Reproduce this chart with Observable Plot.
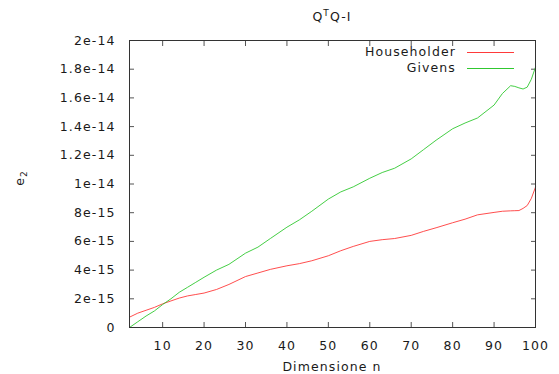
<!DOCTYPE html>
<html><head><meta charset="utf-8">
<script src="https://cdn.jsdelivr.net/npm/d3@7"></script>
<script src="https://cdn.jsdelivr.net/npm/@observablehq/plot@0.6"></script>
<style>
body{margin:0;background:#fff;font-family:"DejaVu Sans",sans-serif;}
#wrap{position:relative;width:559px;height:374px;overflow:hidden}
.t{position:absolute;font-size:12.5px;letter-spacing:1.1px;color:#1a1a1a;white-space:nowrap;line-height:14px}
.ln{position:absolute;height:0;width:47px}
</style></head><body><div id="wrap"></div>
<script>
// Dimension n
const n = [2,4,6,8,10,12,14,16,18,20,23,26,30,33,36,40,43,46,50,53,56,60,63,66,70,73,76,80,83,86,90,92,94,95,96,97,98,99,100];
// e2 in units of 1e-15
const householder = [0.72,1.0,1.2,1.4,1.65,1.85,2.05,2.2,2.3,2.4,2.65,3.0,3.55,3.8,4.05,4.3,4.45,4.65,5.0,5.35,5.65,6.0,6.12,6.2,6.42,6.7,6.95,7.3,7.55,7.85,8.02,8.1,8.13,8.14,8.15,8.3,8.5,9.0,9.78];
const givens = [0,0.4,0.8,1.15,1.6,2.0,2.45,2.8,3.15,3.5,4.0,4.4,5.18,5.6,6.2,6.99,7.5,8.1,8.95,9.45,9.8,10.4,10.8,11.1,11.75,12.4,13.05,13.85,14.25,14.6,15.5,16.3,16.85,16.8,16.7,16.62,16.75,17.3,18.14];
const xTicks = [10,20,30,40,50,60,70,80,90,100];
const yTickValues = [0,2,4,6,8,10,12,14,16,18,20];
const yTickLabels = ["0","2e-15","4e-15","6e-15","8e-15","1e-14","1.2e-14","1.4e-14","1.6e-14","1.8e-14","2e-14"];
const seriesNames = ["Householder","Givens"];
const colors = ["#ff3a3a","#30c830"];

const rows = [];
n.forEach((v,i)=>{ rows.push({n:v, e:householder[i], s:seriesNames[0]}); rows.push({n:v, e:givens[i], s:seriesNames[1]}); });

const plot = Plot.plot({
  width:559, height:374,
  marginLeft:129, marginRight:24, marginTop:40, marginBottom:47,
  style:{fontFamily:"DejaVu Sans", fontSize:"12.5px", letterSpacing:"1.1px", color:"#1a1a1a", background:"#fff"},
  x:{domain:[2,100]},
  y:{domain:[0,20]},
  color:{domain:seriesNames, range:colors},
  marks:[
    Plot.axisX({ticks:xTicks, tickSize:-5, tickPadding:19, label:null, stroke:"#555", tickFormat:d=>String(d)}),
    Plot.axisX({anchor:"top", ticks:xTicks, tickSize:-5, label:null, stroke:"#555", tickFormat:()=>""}),
    Plot.axisY({ticks:yTickValues, tickSize:-5, tickPadding:19, label:null, stroke:"#555", tickFormat:d=>yTickLabels[yTickValues.indexOf(d)]}),
    Plot.axisY({anchor:"right", ticks:yTickValues, tickSize:-5, label:null, stroke:"#555", tickFormat:()=>""}),
    Plot.line(rows, {x:"n", y:"e", z:"s", stroke:"s", strokeWidth:0.9}),
    Plot.frame({stroke:"#333"})
  ]
});
const wrap = document.getElementById("wrap");
wrap.appendChild(plot);
plot.style.position="absolute"; plot.style.left="0"; plot.style.top="0";

function addText(html, css){ const d=document.createElement("div"); d.className="t"; d.innerHTML=html; Object.assign(d.style, css); wrap.appendChild(d); return d; }
addText("Q<sup style='font-size:9px;vertical-align:5px;line-height:0'>T</sup>Q-I", {left:"332px", top:"10px", transform:"translateX(-50%)"});
addText("Dimensione n", {left:"332px", top:"360px", transform:"translateX(-50%)"});
addText("e<sub style='font-size:9px;vertical-align:-3px;line-height:0'>2</sub>", {left:"20px", top:"178px", transform:"translate(-50%,-50%) rotate(-90deg)"});
seriesNames.forEach((s,i)=>{
  addText(s, {right:"103px", top:(45+i*16)+"px"});
  const l=document.createElement("div"); l.className="ln";
  Object.assign(l.style,{left:"467px", top:(52+i*16)+"px", borderTop:"1px solid "+colors[i]});
  wrap.appendChild(l);
});
</script>
</body></html>
